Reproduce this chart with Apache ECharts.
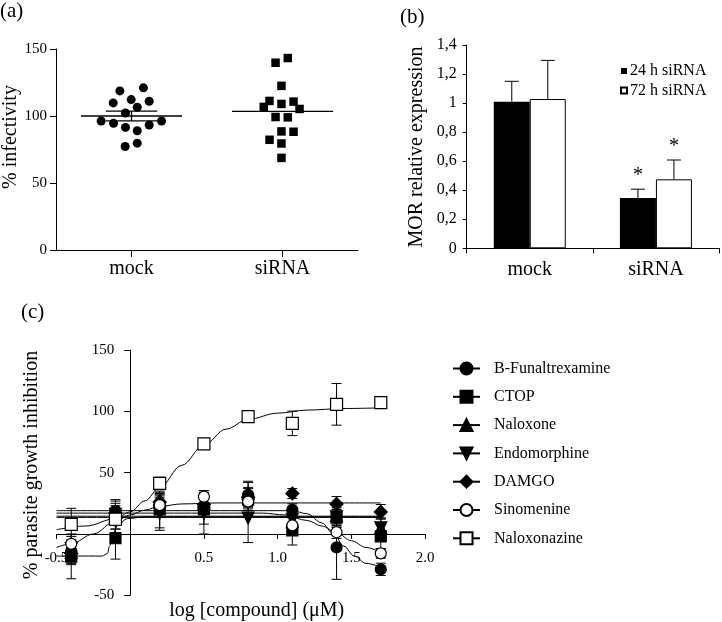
<!DOCTYPE html>
<html><head><meta charset="utf-8">
<script src="https://cdn.jsdelivr.net/npm/echarts@6/dist/echarts.min.js"></script>
<style>html,body{margin:0;padding:0;background:#fff}#c{width:722px;height:622px}</style>
</head><body><div id="c"></div>
<script>
// ---------- Panel (a) data ----------
const catA = ['mock', 'siRNA'];
const mockX = [0.423,0.579,0.379,0.498,0.617,0.538,0.460,0.299,0.381,0.699,0.460,0.538,0.617,0.458,0.538];
const mockY = [118.75,121,109.75,112.25,111,106.5,102.25,96.25,94.5,96.25,91.5,89,93.25,77.25,79.75];
const sirnaX = [1.454,1.535,1.493,1.414,1.493,1.573,1.376,1.613,1.454,1.535,1.493,1.573,1.414,1.493,1.493];
const sirnaY = [139.75,143.25,122.5,111.25,109,110.75,106.75,105.25,99.25,99,88.5,88.25,82.25,79.5,68.75];
const groupPosA = [0.5, 1.5];
const meanA = [100, 103.5];
const semA = [3.6, 0];
const ticksA = [0, 50, 100, 150];

// ---------- Panel (b) data ----------
const catB = ['mock', 'siRNA'];
const exp24 = [1.01, 0.347];
const exp72 = [1.028, 0.475];
const err24 = [0.14, 0.06];
const err72 = [0.266, 0.133];
const sig24 = [0, 1];
const sig72 = [0, 1];

// ---------- Panel (c) data ----------
const compounds = ['B-Funaltrexamine','CTOP','Naloxone','Endomorphine','DAMGO','Sinomenine','Naloxonazine'];
const doseX = [-0.4,-0.1,0.2,0.5,0.8,1.1,1.4,1.7];
const bfunY = [-14,18.8,25,22,32,19.6,-11,-28.8];
const bfunErr = [8,8,7,6,10,5,26,5];
const ctopY = [-18.5,-3.5,20,20,28,3,13.3,-2];
const ctopErr = [18,17,15,12,9,12,8,10];
const naloxoneY = [-15,15,28,25,33,10,15,5];
const naloxoneErr = [10,8,6,8,10,6,8,8];
const endoY = [-12,16,17,17,13,12,14,5];
const endoErr = [10,12,14,17,20,8,6,8];
const damgoY = [-16,17,26,24,30,33,24.5,18];
const damgoErr = [8,8,7,6,8,4,6,6];
const sinoY = [-8,11,23.5,30.4,26.4,7,1.4,-15.8];
const sinoErr = [8,10,6,5,6,6,5,4];
const nlzY = [7.9,12,41.3,73.4,95.7,90.2,105.7,107.1];
const nlzErr = [13,8,5,3,4,10,17,2];

// fitted curves as [x, y] points
const bfunCurve = [[-0.5,19],[1.1,19],[1.2,16.5],[1.3,9],[1.38,0],[1.45,-10],[1.52,-18],[1.6,-24],[1.7,-27]];
const ctopCurve = [[-0.5,-18],[-0.19,-18],[-0.155,-16],[-0.14,-10],[-0.12,0],[-0.08,8],[-0.02,12.5],[0.1,14],[1.7,14]];
const naloxoneCurve = [[-0.5,14.5],[1.7,14.5]];
const endoCurve = [[-0.5,13.5],[1.7,13.5]];
const damgoCurve = [[-0.5,-11],[-0.4,-8],[-0.25,0],[-0.1,10.5],[0,15.5],[0.1,19.5],[0.2,22.5],[0.35,24.5],[0.6,25.3],[1.7,25.3]];
const sinoCurve = [[-0.5,17],[0.9,17],[1.05,15.5],[1.2,11],[1.3,6.5],[1.4,1],[1.5,-5.5],[1.6,-11],[1.7,-15]];
const nlzCurve = [[-0.5,3.5],[-0.3,6.5],[-0.1,12.5],[0,18],[0.1,27],[0.2,38],[0.35,56],[0.5,72.5],[0.65,85.5],[0.8,93.5],[1.0,98.5],[1.2,101],[1.45,102.3],[1.7,102.8]];

const FONT = "'Liberation Serif','Times New Roman',serif";
const BLACK = '#000';

const chart = echarts.init(document.getElementById('c'), null, {renderer: 'canvas'});

const axisBase = {
  axisLine: {show: true, onZero: false, lineStyle: {color: BLACK, width: 1}},
  axisTick: {show: true, lineStyle: {color: BLACK, width: 1}},
  splitLine: {show: false},
  axisLabel: {color: BLACK, fontFamily: FONT}
};
function ax(extra) { return echarts.util.merge(echarts.util.clone(axisBase), extra, true); }

function renderMean(params, api) {
  const x = api.value(0), m = api.value(1), s = api.value(2);
  const L = api.coord([x - 0.335, m]), R = api.coord([x + 0.335, m]);
  const T = api.coord([x, m + s]), B = api.coord([x, m - s]);
  const cl = api.coord([x - 0.17, m])[0], cr = api.coord([x + 0.17, m])[0];
  const st = {stroke: BLACK, lineWidth: 1.3};
  const ch = [{type: 'line', shape: {x1: L[0], y1: L[1], x2: R[0], y2: R[1]}, style: st}];
  if (s > 0) {
    ch.push({type: 'line', shape: {x1: T[0], y1: T[1], x2: B[0], y2: B[1]}, style: st});
    ch.push({type: 'line', shape: {x1: cl, y1: T[1], x2: cr, y2: T[1]}, style: st});
    ch.push({type: 'line', shape: {x1: cl, y1: B[1], x2: cr, y2: B[1]}, style: st});
  }
  return {type: 'group', children: ch};
}

function renderBarErr(dx) {
  return function (params, api) {
    const i = api.value(0), v = api.value(1), e = api.value(2), sig = api.value(3);
    const base = api.coord([i, v]);
    const top = api.coord([i, v + e]);
    const x = base[0] + dx;
    const st = {stroke: BLACK, lineWidth: 1};
    const ch = [
      {type: 'line', shape: {x1: x, y1: base[1], x2: x, y2: top[1]}, style: st},
      {type: 'line', shape: {x1: x - 7, y1: top[1], x2: x + 7, y2: top[1]}, style: st}
    ];
    if (sig) ch.push({type: 'text', x: x, y: top[1] - 13,
      style: {text: '*', font: '20px ' + FONT, fill: BLACK, align: 'center', verticalAlign: 'middle'}});
    return {type: 'group', children: ch};
  };
}

function renderErr(params, api) {
  const x = api.value(0), v = api.value(1), e = api.value(2);
  const T = api.coord([x, v + e]), B = api.coord([x, v - e]);
  const st = {stroke: BLACK, lineWidth: 1};
  return {type: 'group', children: [
    {type: 'line', shape: {x1: T[0], y1: T[1], x2: B[0], y2: B[1]}, style: st},
    {type: 'line', shape: {x1: T[0] - 5, y1: T[1], x2: T[0] + 5, y2: T[1]}, style: st},
    {type: 'line', shape: {x1: B[0] - 5, y1: B[1], x2: B[0] + 5, y2: B[1]}, style: st}
  ]};
}

const cSpec = [
  {name: 'B-Funaltrexamine', y: bfunY, err: bfunErr, curve: bfunCurve, symbol: 'circle', size: 11, fill: BLACK},
  {name: 'CTOP', y: ctopY, err: ctopErr, curve: ctopCurve, symbol: 'rect', size: 11, fill: BLACK},
  {name: 'Naloxone', y: naloxoneY, err: naloxoneErr, curve: naloxoneCurve, symbol: 'triangle', size: 12, fill: BLACK},
  {name: 'Endomorphine', y: endoY, err: endoErr, curve: endoCurve, symbol: 'triangle', size: 12, fill: BLACK, rotate: 180},
  {name: 'DAMGO', y: damgoY, err: damgoErr, curve: damgoCurve, symbol: 'diamond', size: 13, fill: BLACK},
  {name: 'Sinomenine', y: sinoY, err: sinoErr, curve: sinoCurve, symbol: 'circle', size: 11, fill: '#fff'},
  {name: 'Naloxonazine', y: nlzY, err: nlzErr, curve: nlzCurve, symbol: 'rect', size: 12, fill: '#fff'}
];

const series = [];
// (a)
series.push({type: 'scatter', name: 'mock pts', xAxisIndex: 1, yAxisIndex: 0,
  data: mockX.map((x, i) => [x, mockY[i]]), symbol: 'circle', symbolSize: 9,
  itemStyle: {color: BLACK, opacity: 1}, silent: true, z: 3});
series.push({type: 'scatter', name: 'siRNA pts', xAxisIndex: 1, yAxisIndex: 0,
  data: sirnaX.map((x, i) => [x, sirnaY[i]]), symbol: 'rect', symbolSize: 8.5,
  itemStyle: {color: BLACK, opacity: 1}, silent: true, z: 3});
series.push({type: 'custom', name: 'meanA', xAxisIndex: 1, yAxisIndex: 0,
  data: groupPosA.map((x, i) => [x, meanA[i], semA[i]]), encode: {x: 0, y: 1},
  renderItem: renderMean, silent: true, z: 4});
// (b)
series.push({type: 'bar', name: '24 h siRNA', xAxisIndex: 2, yAxisIndex: 1, data: exp24,
  barWidth: 36, barGap: '0%', itemStyle: {color: BLACK}, silent: true});
series.push({type: 'bar', name: '72 h siRNA', xAxisIndex: 2, yAxisIndex: 1, data: exp72,
  barWidth: 36, barGap: '0%', itemStyle: {color: '#fff', borderColor: BLACK, borderWidth: 1}, silent: true});
series.push({type: 'custom', name: 'err24', xAxisIndex: 2, yAxisIndex: 1,
  data: catB.map((c, i) => [i, exp24[i], err24[i], sig24[i]]), encode: {x: 0, y: 1},
  renderItem: renderBarErr(-18), silent: true, z: 5});
series.push({type: 'custom', name: 'err72', xAxisIndex: 2, yAxisIndex: 1,
  data: catB.map((c, i) => [i, exp72[i], err72[i], sig72[i]]), encode: {x: 0, y: 1},
  renderItem: renderBarErr(18), silent: true, z: 5});
// (c) curves
cSpec.forEach(s => {
  series.push({type: 'line', name: s.name, xAxisIndex: 3, yAxisIndex: 2, data: s.curve,
    smooth: 0.35, smoothMonotone: 'x', showSymbol: false, symbol: s.symbol, symbolSize: s.size,
    symbolRotate: s.rotate || 0,
    lineStyle: {color: BLACK, width: 1}, itemStyle: {color: s.fill, borderColor: BLACK, borderWidth: 1.2},
    silent: true, z: 2});
});
cSpec.forEach(s => {
  series.push({type: 'custom', name: s.name + ' err', xAxisIndex: 3, yAxisIndex: 2,
    data: doseX.map((x, i) => [x, s.y[i], s.err[i]]), encode: {x: 0, y: 1},
    renderItem: renderErr, silent: true, z: 3});
});
cSpec.forEach(s => {
  series.push({type: 'scatter', name: s.name + ' pts', xAxisIndex: 3, yAxisIndex: 2,
    data: doseX.map((x, i) => [x, s.y[i]]), symbol: s.symbol, symbolSize: s.size,
    symbolRotate: s.rotate || 0,
    itemStyle: {color: s.fill, borderColor: BLACK, borderWidth: 1.2, opacity: 1}, silent: true, z: 4});
});

// grid (c) geometry: x from -0.5..2.0 over 368.5 px, y from -50..150 over 245.3 px
const gridC = {left: 56.5, top: 350, width: 368.5, height: 245.3};
const yAxisCOffset = -(0 - (-0.5)) / 2.5 * gridC.width;   // put y axis at x = 0
const xAxisCOffset = -(0 - (-50)) / 200 * gridC.height;   // put x axis at y = 0

const option = {
  backgroundColor: '#fff',
  animation: false,
  textStyle: {fontFamily: FONT},
  grid: [
    {left: 56, top: 49, width: 302, height: 201},
    {left: 466.7, top: 45, width: 252.3, height: 203.3},
    gridC
  ],
  xAxis: [
    ax({gridIndex: 0, type: 'category', data: catA, axisTick: {alignWithLabel: true, length: 7},
      axisLabel: {fontSize: 20, margin: 9}}),
    {gridIndex: 0, type: 'value', min: 0, max: 2, show: false},
    ax({gridIndex: 1, type: 'category', data: catB, axisTick: {length: 5},
      axisLabel: {fontSize: 20, margin: 11}}),
    ax({gridIndex: 2, type: 'value', min: -0.5, max: 2, interval: 0.5, position: 'bottom',
      offset: xAxisCOffset, axisTick: {length: 5},
      axisLabel: {fontSize: 15, margin: 17, formatter: v => (Math.abs(v) < 1e-9 ? '' : v.toFixed(1))}})
  ],
  yAxis: [
    ax({gridIndex: 0, type: 'value', min: ticksA[0], max: ticksA[ticksA.length - 1], interval: 50,
      axisTick: {length: 6}, axisLabel: {fontSize: 15, margin: 9}}),
    ax({gridIndex: 1, type: 'value', min: 0, max: 1.4, interval: 0.2, axisTick: {length: 4},
      axisLabel: {fontSize: 16, margin: 10, formatter: v => String(Math.round(v * 10) / 10).replace('.', ',')}}),
    ax({gridIndex: 2, type: 'value', min: -50, max: 150, interval: 50, position: 'left',
      offset: yAxisCOffset, axisTick: {length: 6},
      axisLabel: {fontSize: 15, margin: 16, formatter: v => (v === 0 ? '' : String(v))}})
  ],
  legend: [
    {data: ['24 h siRNA', '72 h siRNA'], orient: 'vertical', left: 615, top: 58,
      itemWidth: 6, itemHeight: 6, itemGap: 3.5, icon: 'rect', selectedMode: false,
      textStyle: {fontFamily: FONT, fontSize: 16, color: BLACK, padding: [0, 0, 0, -2]}},
    {data: compounds, orient: 'vertical', left: 447, top: 355.5,
      itemWidth: 27, itemHeight: 15, itemGap: 12.3, selectedMode: false,
      textStyle: {fontFamily: FONT, fontSize: 16, color: BLACK, padding: [0, 0, 0, 9]}}
  ],
  graphic: [
    {type: 'text', x: 0, y: 1, style: {text: '(a)', font: '21px ' + FONT, fill: BLACK}},
    {type: 'text', x: 400, y: 7, style: {text: '(b)', font: '21px ' + FONT, fill: BLACK}},
    {type: 'text', x: 21, y: 302, style: {text: '(c)', font: '21px ' + FONT, fill: BLACK}},
    {type: 'text', x: 11, y: 137, rotation: Math.PI / 2,
      style: {text: '% infectivity', font: '20px ' + FONT, fill: BLACK, align: 'center', verticalAlign: 'middle'}},
    {type: 'text', x: 416.7, y: 147, rotation: Math.PI / 2,
      style: {text: 'MOR relative expression', font: '20px ' + FONT, fill: BLACK, align: 'center', verticalAlign: 'middle'}},
    {type: 'text', x: 32, y: 465, rotation: Math.PI / 2,
      style: {text: '% parasite growth inhibition', font: '20px ' + FONT, fill: BLACK, align: 'center', verticalAlign: 'middle'}},
    {type: 'text', x: 256.7, y: 611,
      style: {text: 'log [compound] (\u03bcM)', font: '20px ' + FONT, fill: BLACK, align: 'center', verticalAlign: 'middle'}}
  ],
  series: series
};
chart.setOption(option);
</script></body></html>
